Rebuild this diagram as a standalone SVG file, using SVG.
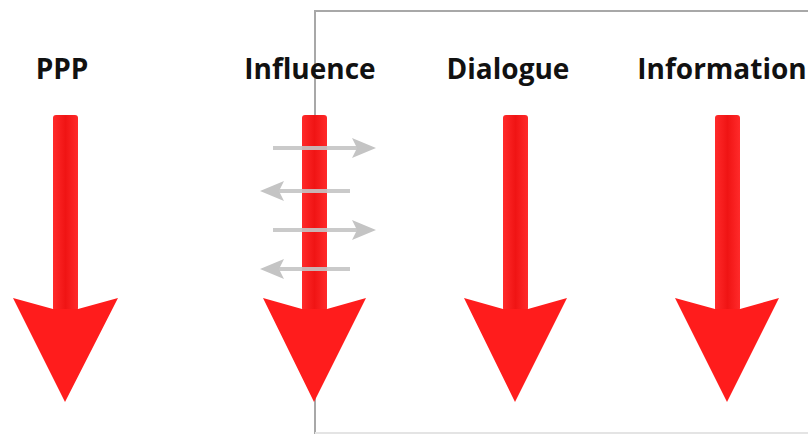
<svg xmlns="http://www.w3.org/2000/svg" width="808" height="434" viewBox="0 0 808 434">
<defs>
<style>
.lbl{font-family:"Open Sans","Liberation Sans",sans-serif;font-weight:700;font-size:28px;fill:#111;text-anchor:middle}
.red{fill:#ff1c1c}
.g{stroke:#c4c4c4;stroke-width:4;fill:none;opacity:0.9}
.gh{fill:#c4c4c4}
.frame{stroke:#a8a8a8;stroke-width:2;fill:none}
</style>
<linearGradient id="sh" x1="0" x2="1" y1="0" y2="0">
<stop offset="0" stop-color="#ff2a2a"/>
<stop offset="0.5" stop-color="#f01414"/>
<stop offset="1" stop-color="#ff2a2a"/>
</linearGradient>
</defs>
<rect width="808" height="434" fill="#ffffff"/>
<g id="frame">
<polyline class="frame" points="315,434 315,11 808,11"/>
<line x1="315" y1="433" x2="808" y2="433" stroke="#e4e4e4" stroke-width="2"/>
</g>
<g id="ppp">
<text class="lbl" x="62" y="79">PPP</text>
<rect x="53" y="115" width="25" height="196" rx="3" fill="url(#sh)"/>
<polygon class="red" points="13,298 53,309 78,309 118,298 65,402"/>
</g>
<g id="influence">
<text class="lbl" x="310" y="79">Influence</text>
<rect x="302" y="115" width="25" height="196" rx="3" fill="url(#sh)"/>
<polygon class="red" points="263,298 302,309 327,309 366,298 314,402"/>
</g>
<g id="dialogue">
<text class="lbl" x="508" y="79">Dialogue</text>
<rect x="503" y="115" width="25" height="196" rx="3" fill="url(#sh)"/>
<polygon class="red" points="464,298 503,309 528,309 567,298 515,402"/>
</g>
<g id="information">
<text class="lbl" x="722" y="79">Information</text>
<rect x="715" y="115" width="25" height="196" rx="3" fill="url(#sh)"/>
<polygon class="red" points="675,298 715,309 740,309 779,298 727,402"/>
</g>
<g id="connectors">
<line class="g" x1="273" y1="148" x2="360" y2="148"/>
<polygon class="gh" points="376,148 352,138 357,148 352,158"/>
<line class="g" x1="350" y1="191" x2="272" y2="191"/>
<polygon class="gh" points="260,191 284,181 279,191 284,201"/>
<line class="g" x1="273" y1="230" x2="360" y2="230"/>
<polygon class="gh" points="376,230 352,220 357,230 352,240"/>
<line class="g" x1="350" y1="269" x2="272" y2="269"/>
<polygon class="gh" points="260,269 284,259 279,269 284,279"/>
</g>
</svg>
